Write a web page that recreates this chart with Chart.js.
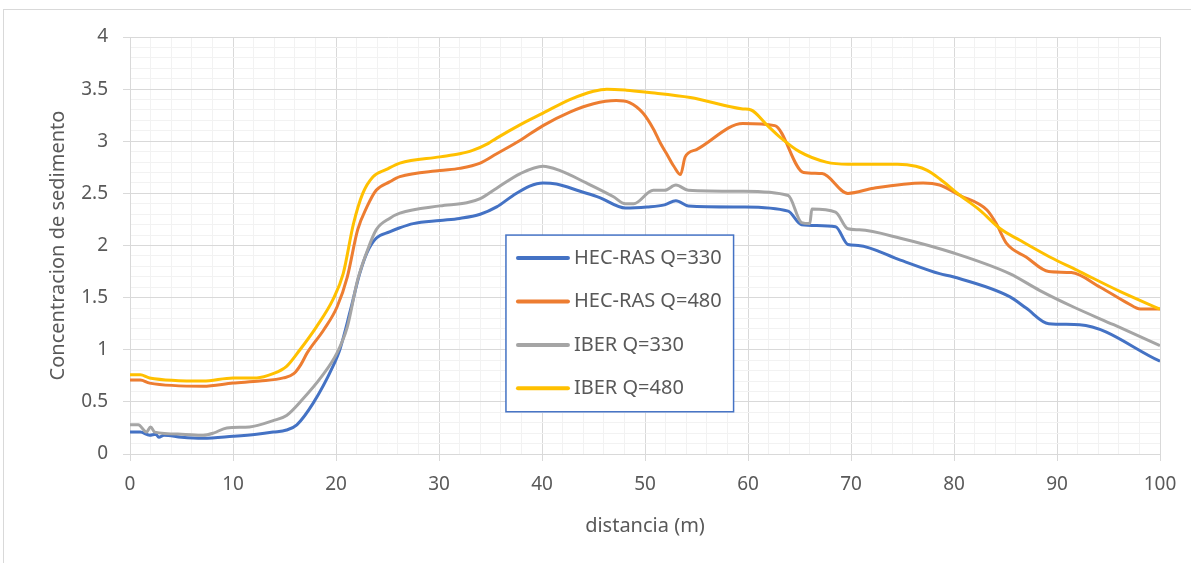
<!DOCTYPE html>
<html>
<head>
<meta charset="utf-8">
<title>Concentracion de sedimento</title>
<script src="https://cdn.jsdelivr.net/npm/chart.js@4"></script>
<style>
    html, body { margin: 0; padding: 0; background: #fff; overflow: hidden; }
    #frame { position: absolute; left: 3px; top: 9px; width: 1300px; height: 700px; border: 1px solid #d9d9d9; }
    #wrap { position: absolute; left: 0; top: 0; width: 1191px; height: 563px; }
</style>
</head>
<body>
<div id="frame"></div>
<div id="wrap"><canvas id="myChart" width="1191" height="563"></canvas></div>
<script>
// Sample data (distancia in m, concentracion)
const seriesNames = ['HEC-RAS Q=330', 'HEC-RAS Q=480', 'IBER Q=330', 'IBER Q=480'];
const seriesColors = ['#4472C4', '#ED7D31', '#A5A5A5', '#FFC000'];

const hecras330X = [0, 1, 1.9, 2.5, 2.8, 3.3, 5, 7.1, 10, 12.3, 13.9, 15.2, 16.2, 17.8, 19.7, 20.4, 21.4, 22.3, 23, 23.9, 25.2, 26.2, 27.5, 30.1, 32, 34, 35.6, 37.2, 38.8, 40.1, 41.4, 43.7, 45.6, 48.1, 50.2, 51.9, 53, 54.2, 59.5, 63.9, 65.2, 68.5, 69.7, 70.7, 74.8, 78.6, 79.9, 85.4, 87, 89.2, 92.2, 100];
const hecras330Y = [0.21, 0.21, 0.18, 0.19, 0.16, 0.18, 0.16, 0.15, 0.17, 0.19, 0.21, 0.23, 0.28, 0.49, 0.84, 1.01, 1.38, 1.73, 1.93, 2.07, 2.13, 2.17, 2.21, 2.24, 2.26, 2.30, 2.37, 2.48, 2.57, 2.60, 2.59, 2.52, 2.46, 2.36, 2.37, 2.39, 2.43, 2.38, 2.37, 2.33, 2.20, 2.18, 2.01, 2.00, 1.86, 1.73, 1.70, 1.51, 1.40, 1.25, 1.24, 0.89];

const hecras480X = [0, 1, 1.9, 7.1, 10, 12.6, 14.9, 15.9, 16.6, 17.2, 18.8, 20.1, 21.1, 22.1, 23, 23.9, 25.2, 26.2, 30.1, 32, 34, 35.6, 37.9, 40.1, 42.7, 45, 47.2, 48.5, 49.8, 50.8, 51.5, 52.1, 52.8, 53.45, 53.9, 55, 59.5, 62.6, 65.4, 67.2, 69.7, 72.2, 77, 78.6, 80.6, 83.2, 84.1, 85.1, 87, 89.2, 91.4, 94.2, 96.8, 98.1, 100];
const hecras480Y = [0.71, 0.71, 0.68, 0.65, 0.68, 0.70, 0.73, 0.77, 0.86, 0.97, 1.19, 1.41, 1.70, 2.15, 2.37, 2.53, 2.61, 2.66, 2.72, 2.74, 2.79, 2.88, 3.01, 3.15, 3.28, 3.36, 3.39, 3.37, 3.27, 3.12, 2.98, 2.88, 2.76, 2.68, 2.85, 2.92, 3.17, 3.15, 2.70, 2.69, 2.50, 2.55, 2.60, 2.58, 2.48, 2.34, 2.21, 2.02, 1.89, 1.75, 1.74, 1.60, 1.45, 1.39, 1.39];

const iber330X = [0, 0.8, 1.6, 2, 2.4, 5, 7.1, 8.1, 9.4, 11.6, 13.9, 15.2, 16.8, 18.5, 20.1, 21.1, 22.1, 23, 23.9, 25.2, 26.2, 30.1, 32.7, 34, 35.6, 37.9, 40.1, 41.7, 44.3, 46.9, 48.1, 48.9, 50.8, 51.9, 53, 54.2, 59.5, 63.9, 65.2, 66, 66.2, 68.5, 69.7, 70.8, 74.8, 79.9, 85.4, 88.3, 91.6, 95.5, 100];
const iber330Y = [0.28, 0.28, 0.21, 0.26, 0.21, 0.19, 0.18, 0.20, 0.25, 0.26, 0.32, 0.37, 0.53, 0.73, 0.97, 1.22, 1.67, 1.94, 2.15, 2.26, 2.31, 2.38, 2.41, 2.45, 2.55, 2.69, 2.76, 2.72, 2.60, 2.47, 2.40, 2.40, 2.53, 2.53, 2.58, 2.53, 2.52, 2.48, 2.22, 2.21, 2.35, 2.32, 2.16, 2.15, 2.07, 1.93, 1.73, 1.57, 1.41, 1.24, 1.04];

const iber480X = [0, 1, 1.9, 7.1, 10, 12.3, 13.9, 15.2, 16.5, 18.1, 19.7, 20.7, 21.7, 22.6, 23.6, 24.9, 26.2, 30.1, 32, 33.2, 34.8, 35.6, 37.9, 40.1, 42.7, 45, 46.3, 48.2, 50.2, 54.4, 59.5, 60.3, 61.8, 63.1, 65, 67.6, 69.7, 72.2, 74.5, 76.3, 77.4, 78.6, 80.6, 82.5, 84.5, 86.4, 89.3, 92.2, 96.1, 100];
const iber480Y = [0.76, 0.76, 0.73, 0.70, 0.73, 0.73, 0.77, 0.84, 1.00, 1.22, 1.48, 1.73, 2.21, 2.50, 2.66, 2.73, 2.79, 2.85, 2.88, 2.91, 2.98, 3.03, 3.16, 3.27, 3.40, 3.48, 3.50, 3.49, 3.47, 3.42, 3.31, 3.30, 3.16, 3.04, 2.90, 2.80, 2.78, 2.78, 2.78, 2.76, 2.72, 2.64, 2.48, 2.34, 2.16, 2.05, 1.89, 1.75, 1.56, 1.39];

const seriesX = [hecras330X, hecras480X, iber330X, iber480X];
const seriesY = [hecras330Y, hecras480Y, iber330Y, iber480Y];

const textColor = '#595959';
const majorGrid = '#d9d9d9';
const minorGrid = '#f2f2f2';

// major lines every 10 m and every 0.5
function isMajorX(v) { return Math.abs(v / 10 - Math.round(v / 10)) < 1e-6; }
function isMajorY(v) { return Math.abs(v * 2 - Math.round(v * 2)) < 1e-6; }

// legend box drawn inside the plot, like the excel one
const legendBox = {
    id: 'legendBox',
    afterDraw(chart) {
        const { ctx, scales: { x, y } } = chart;
        const left = x.getPixelForValue(36.5);
        const right = x.getPixelForValue(58.6);
        const top = y.getPixelForValue(2.1);
        const bottom = y.getPixelForValue(0.405);
        ctx.save();
        ctx.fillStyle = '#fff';
        ctx.fillRect(left, top, right - left, bottom - top);
        ctx.strokeStyle = '#4472C4';
        ctx.lineWidth = 1.5;
        ctx.strokeRect(left, top, right - left, bottom - top);
        ctx.font = '20px "Noto Sans"';
        ctx.textBaseline = 'middle';
        ctx.fillStyle = textColor;
        chart.data.datasets.forEach((ds, i) => {
            const rowY = top + 23 + i * 43.4;
            ctx.strokeStyle = ds.borderColor;
            ctx.lineWidth = 4;
            ctx.lineCap = 'round';
            ctx.beginPath();
            ctx.moveTo(left + 12, rowY);
            ctx.lineTo(left + 62, rowY);
            ctx.stroke();
            ctx.fillText(ds.label, left + 68, rowY);
        });
        ctx.restore();
    }
};

const datasets = seriesNames.map((name, i) => ({
    label: name,
    data: seriesX[i].map((xv, j) => ({ x: xv, y: seriesY[i][j] })),
    borderColor: seriesColors[i],
    backgroundColor: seriesColors[i],
    borderWidth: 3,
    pointRadius: 0,
    cubicInterpolationMode: 'monotone',
    fill: false,
    order: 4 - i
}));

const ctx = document.getElementById('myChart').getContext('2d');

const myChart = new Chart(ctx, {
    type: 'line',
    data: { datasets: datasets },
    options: {
        responsive: false,
        animation: false,
        layout: { padding: { left: 42, top: 37, right: 31, bottom: 25 } },
        scales: {
            x: {
                type: 'linear',
                min: 0,
                max: 100,
                ticks: {
                    stepSize: 2,
                    maxTicksLimit: 51,
                    autoSkip: false,
                    maxRotation: 0,
                    padding: 12,
                    color: textColor,
                    font: { family: 'Noto Sans', size: 19 },
                    callback: v => isMajorX(v) ? String(Math.round(v)) : ''
                },
                grid: {
                    color: c => isMajorX(c.tick.value) ? majorGrid : minorGrid,
                    tickColor: c => isMajorX(c.tick.value) ? majorGrid : 'rgba(0,0,0,0)',
                    tickLength: 7
                },
                border: { color: majorGrid },
                title: {
                    display: true,
                    text: 'distancia (m)',
                    color: textColor,
                    font: { family: 'Noto Sans', size: 20 },
                    padding: { top: 4, bottom: 0 }
                },
                afterFit: s => { s.height = 84; }
            },
            y: {
                min: 0,
                max: 4,
                ticks: {
                    stepSize: 0.1,
                    maxTicksLimit: 41,
                    autoSkip: false,
                    padding: 15,
                    color: textColor,
                    font: { family: 'Noto Sans', size: 19 },
                    callback: v => isMajorY(v) ? String(Math.round(v * 10) / 10) : ''
                },
                grid: {
                    color: c => isMajorY(c.tick.value) ? majorGrid : minorGrid,
                    tickColor: c => isMajorY(c.tick.value) ? majorGrid : 'rgba(0,0,0,0)',
                    tickLength: 7
                },
                border: { color: majorGrid },
                title: {
                    display: true,
                    text: 'Concentracion de sedimento',
                    color: textColor,
                    font: { family: 'Noto Sans', size: 20 },
                    padding: { top: 4, bottom: 0 }
                },
                afterFit: s => { s.width = 88; }
            }
        },
        plugins: {
            legend: { display: false },
            tooltip: { enabled: false }
        }
    },
    plugins: [legendBox]
});
</script>
</body>
</html>
